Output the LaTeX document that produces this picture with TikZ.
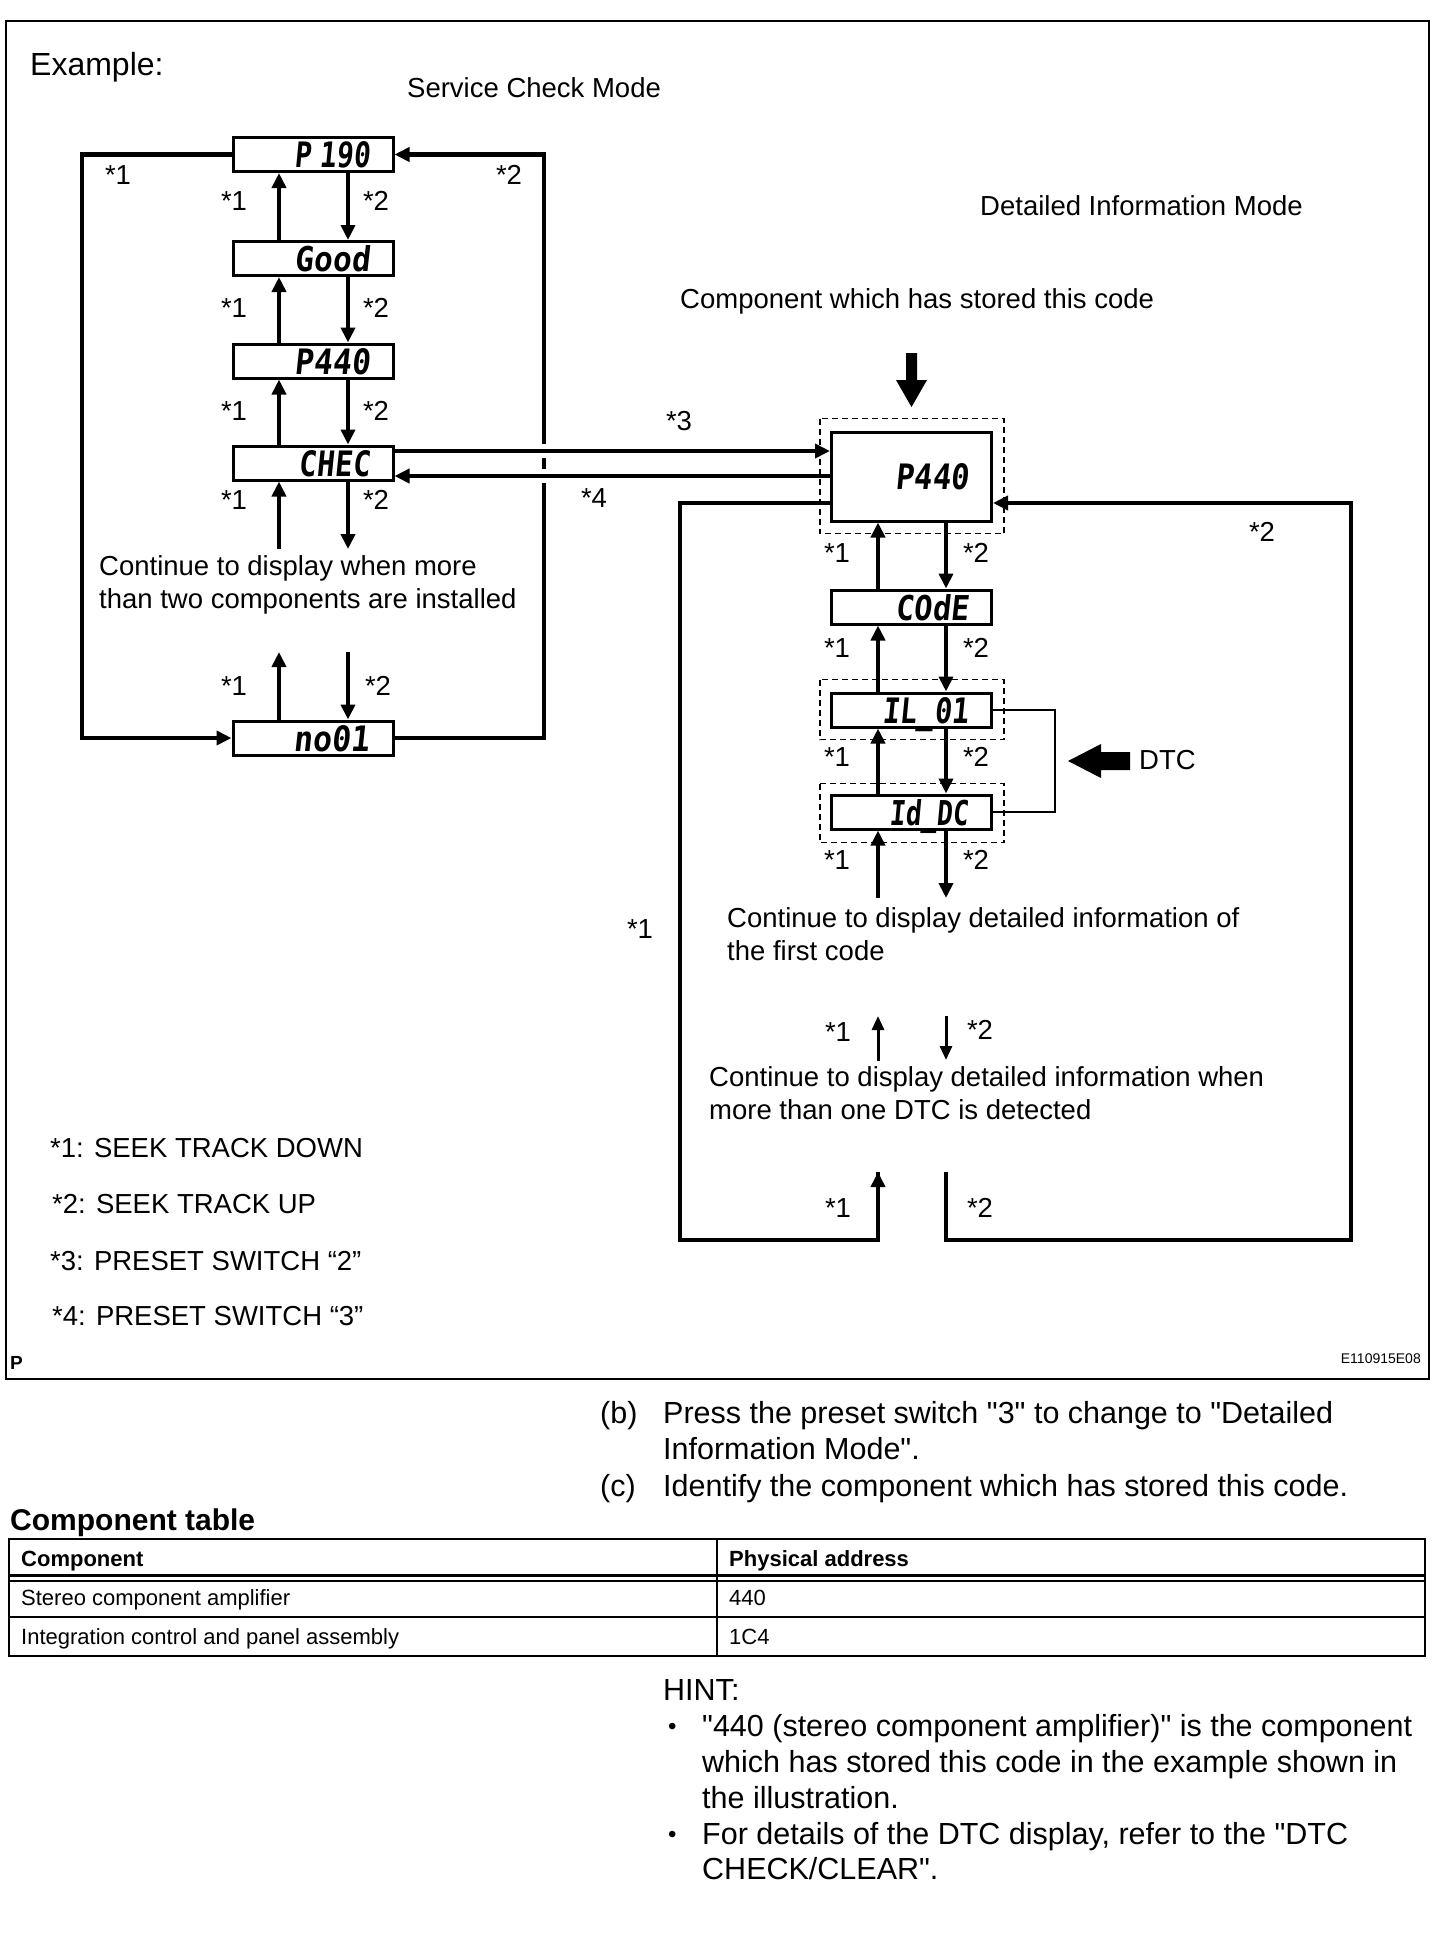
\documentclass[tikz,border=0pt]{standalone}
\usepackage{fontspec}
\defaultfontfeatures{}
\defaultfontfeatures[\rmfamily,\sffamily]{}
\setmainfont{Liberation Sans}
\newfontfamily\lcdfont[FakeSlant=0.12]{DejaVu Sans Mono}
\usetikzlibrary{arrows.meta}
\newcommand{\lcdtxt}[2]{\raisebox{0pt}[\height][0pt]{\resizebox{#1}{26pt}{\lcdfont\bfseries #2}}}
\begin{document}
\begin{tikzpicture}[x=1pt,y=-1pt,
  fig/.style={font=\fontsize{27.5}{33}\selectfont, inner sep=0pt},
  doc/.style={font=\fontsize{30.5}{36}\selectfont, inner sep=0pt, anchor=base west},
  tab/.style={font=\fontsize{22}{26}\selectfont, inner sep=0pt, anchor=base west},
  lbl/.style={fig, anchor=center},
  txt/.style={fig, anchor=base west},
  lcd/.style={draw, line width=3pt, minimum width=160pt, minimum height=34pt, inner sep=0pt, text width=114pt, align=right},
  mainarr/.style={line width=4.5pt, -{Triangle[length=15pt,width=14pt]}},
  thinarr/.style={line width=3pt, -{Triangle[length=14pt,width=12pt]}},
  loopline/.style={line width=4.5pt, line join=miter},
  dashbox/.style={line width=1.5pt, dash pattern=on 6pt off 4pt}
]
\useasboundingbox (0,0) rectangle (1456,1944);
\fill[white] (0,0) rectangle (1456,1944);
% frame
\draw[line width=2.5pt] (6,21) rectangle (1429,1379);

% titles
\node[anchor=base west, inner sep=0pt, font=\fontsize{32}{38}\selectfont] (ex) at (30,75) {Example:};
\node[txt] (scm) at (407,97) {Service Check Mode};
\node[txt] (dim) at (980,215) {Detailed Information Mode};
\node[txt] (cws) at (680,308) {Component which has stored this code};

% helper coordinates
\coordinate (lu) at (279,0);
\coordinate (ld) at (348,0);
\coordinate (ru) at (878,0);
\coordinate (rd) at (946,0);
\coordinate (lx) at (82,0);
\coordinate (rx) at (544,0);

% left column boxes
\node[lcd] (p190) at (313,154.5) {\lcdtxt{76pt}{P 190}};
\node[lcd] (good) at (313,258.5) {\lcdtxt{75pt}{Good}};
\node[lcd] (p440a) at (313,361) {\lcdtxt{75pt}{P440}};
\node[lcd] (chec) at (313,463) {\lcdtxt{71pt}{CHEC}};
\node[lcd] (no01) at (313,738) {\lcdtxt{76pt}{no01}};

% right column boxes
\node[lcd, minimum height=89pt] (p440b) at (911.5,476.5) {\lcdtxt{73pt}{P440}};
\node[lcd] (code) at (911.5,607) {\lcdtxt{73pt}{COdE}};
\node[lcd] (il01) at (911.5,710) {\lcdtxt{86pt}{IL\_01}};
\node[lcd] (iddc) at (911.5,812) {\lcdtxt{79pt}{Id\_DC}};

% dashed frames
\draw[dashbox] ([shift={(-10,-12)}]p440b.north west) rectangle ([shift={(11,11)}]p440b.south east);
\draw[dashbox] ([shift={(-10,-12)}]il01.north west) rectangle ([shift={(11,11)}]il01.south east);
\draw[dashbox] ([shift={(-10,-10)}]iddc.north west) rectangle ([shift={(11,12)}]iddc.south east);

% left column arrows
\draw[mainarr] (good.north -| lu) -- (p190.south -| lu);
\draw[mainarr] (p190.south -| ld) -- (good.north -| ld);
\draw[mainarr] (p440a.north -| lu) -- (good.south -| lu);
\draw[mainarr] (good.south -| ld) -- (p440a.north -| ld);
\draw[mainarr] (chec.north -| lu) -- (p440a.south -| lu);
\draw[mainarr] (p440a.south -| ld) -- (chec.north -| ld);
\coordinate (cu) at (279,549);
\coordinate (cd) at (348,549);
\draw[mainarr] (cu) -- (chec.south -| lu);
\draw[mainarr] (chec.south -| ld) -- (cd);
\coordinate (nu) at (279,652);
\coordinate (nd) at (348,652);
\draw[mainarr] (no01.north -| lu) -- (nu);
\draw[mainarr] (nd) -- (no01.north -| ld);

% left loops
\draw[loopline, -{Triangle[length=15pt,width=14pt]}] (p190.west) -- (p190.west -| lx) -- (no01.west -| lx) -- (no01.west);
\draw[loopline, -{Triangle[length=15pt,width=14pt]}] (no01.east) -- (no01.east -| rx) -- (p190.east -| rx) -- (p190.east);

% crossing gaps
\fill[white] (540,444) rectangle (549,458);
\fill[white] (540,469) rectangle (549,483);

% horizontal connectors
\coordinate (c3) at ([shift={(0,-12)}]chec.east);
\coordinate (c4) at ([shift={(0,13)}]chec.east);
\draw[mainarr] (c3) -- (c3 -| p440b.west);
\draw[mainarr] (c4 -| p440b.west) -- (c4);

% right column arrows
\draw[mainarr] (code.north -| ru) -- (p440b.south -| ru);
\draw[mainarr] (p440b.south -| rd) -- (code.north -| rd);
\draw[mainarr] (il01.north -| ru) -- (code.south -| ru);
\draw[mainarr] (code.south -| rd) -- (il01.north -| rd);
\draw[mainarr] (iddc.north -| ru) -- (il01.south -| ru);
\draw[mainarr] (il01.south -| rd) -- (iddc.north -| rd);
\coordinate (iu) at (878,898);
\coordinate (id) at (946,898);
\draw[mainarr] (iu) -- (iddc.south -| ru);
\draw[mainarr] (iddc.south -| rd) -- (id);

% middle thin arrows
\coordinate (mu1) at (878,1061);
\coordinate (mu2) at (878,1016);
\coordinate (md1) at (946,1016);
\coordinate (md2) at (946,1060);
\draw[thinarr] (mu1) -- (mu2);
\draw[thinarr] (md1) -- (md2);

% right loop
\coordinate (r4) at ([shift={(0,26.5)}]p440b.west);
\coordinate (r5) at ([shift={(0,26.5)}]p440b.east);
\coordinate (g1) at (878,1172);
\coordinate (g2) at (946,1172);
\draw[loopline] (r4) -- (680,503) -- (680,1240) -- (878,1240) -- (g1);
\draw[mainarr] (878,1200) -- (g1);
\draw[loopline, -{Triangle[length=15pt,width=14pt]}] (g2) -- (946,1240) -- (1351,1240) -- (1351,503) -- (r5);

% DTC bracket
\draw[line width=2pt] (il01.east) -- (1055,710) -- (1055,812) -- (iddc.east);

% block arrows
\fill (906,353) -- (917,353) -- (917,380) -- (927,380) -- (911.5,407) -- (896,380) -- (906,380) -- cycle;
\fill (1068,761) -- (1101,744) -- (1101,752) -- (1130,752) -- (1130,770) -- (1101,770) -- (1101,778) -- cycle;
\node[txt] (dtc) at (1139,769) {DTC};

% labels left
\node[lbl] (l1a) at (118,175) {*1};
\node[lbl] (l2a) at (509,175) {*2};
\node[lbl] (l1b) at (234,201) {*1};
\node[lbl] (l2b) at (376,201) {*2};
\node[lbl] (l1c) at (234,308) {*1};
\node[lbl] (l2c) at (376,308) {*2};
\node[lbl] (l1d) at (234,411) {*1};
\node[lbl] (l2d) at (376,411) {*2};
\node[lbl] (l1e) at (234,500) {*1};
\node[lbl] (l2e) at (376,500) {*2};
\node[lbl] (l1f) at (234,686) {*1};
\node[lbl] (l2f) at (378,686) {*2};
\node[lbl] (l3) at (679,421) {*3};
\node[lbl] (l4) at (594,498) {*4};

% labels right
\node[lbl] (r1a) at (837,553) {*1};
\node[lbl] (r2a) at (976,553) {*2};
\node[lbl] (r1b) at (837,648) {*1};
\node[lbl] (r2b) at (976,648) {*2};
\node[lbl] (r1c) at (837,757) {*1};
\node[lbl] (r2c) at (976,757) {*2};
\node[lbl] (r1d) at (837,860) {*1};
\node[lbl] (r2d) at (976,860) {*2};
\node[lbl] (r2e) at (1262,532) {*2};
\node[lbl] (r1e) at (640,929) {*1};
\node[lbl] (r1f) at (838,1032) {*1};
\node[lbl] (r2f) at (980,1030) {*2};
\node[lbl] (r1g) at (838,1208) {*1};
\node[lbl] (r2g) at (980,1208) {*2};

% texts
\node[txt] (ct1) at (99,575) {Continue to display when more};
\node[txt] (ct2) at (99,608) {than two components are installed};
\node[txt] (cd1) at (727,927) {Continue to display detailed information of};
\node[txt] (cd2) at (727,960) {the first code};
\node[txt] (cw1) at (709,1086) {Continue to display detailed information when};
\node[txt] (cw2) at (709,1119) {more than one DTC is detected};

% legend
\node[txt] (lg1) at (50,1157) {*1: SEEK TRACK DOWN};
\node[txt] (lg2) at (52,1213) {*2: SEEK TRACK UP};
\node[txt] (lg3) at (50,1270) {*3: PRESET SWITCH “2”};
\node[txt] (lg4) at (52,1325) {*4: PRESET SWITCH “3”};

\node[anchor=base west, inner sep=0pt, font=\fontsize{19}{22}\selectfont\bfseries] (pp) at (10,1369) {P};
\node[anchor=base east, inner sep=0pt, font=\fontsize{14}{16}\selectfont] (code-id) at (1421,1363) {E110915E08};

% text below
\node[doc] (b) at (600,1423) {(b)};
\node[doc] (b1) at (663,1423) {Press the preset switch "3" to change to "Detailed};
\node[doc] (b2) at (663,1459) {Information Mode".};
\node[doc] (c) at (600,1496) {(c)};
\node[doc] (c1) at (663,1496) {Identify the component which has stored this code.};

\node[anchor=base west, inner sep=0pt, font=\fontsize{30}{36}\selectfont\bfseries] (ctab) at (10,1530) {Component table};

% table
\draw[line width=2.5pt] (9,1539) rectangle (1425,1656);
\draw[line width=2pt] (717,1539) -- (717,1656);
\draw[line width=3pt] (9,1575.5) -- (1425,1575.5);
\draw[line width=2pt] (9,1580.5) -- (1425,1580.5);
\draw[line width=2pt] (9,1617) -- (1425,1617);
\node[tab, font=\fontsize{22}{26}\selectfont\bfseries] (th1) at (21,1566) {Component};
\node[tab, font=\fontsize{22}{26}\selectfont\bfseries] (th2) at (729,1566) {Physical address};
\node[tab] (t11) at (21,1605) {Stereo component amplifier};
\node[tab] (t12) at (729,1605) {440};
\node[tab] (t21) at (21,1644) {Integration control and panel assembly};
\node[tab] (t22) at (729,1644) {1C4};

% hint
\node[doc] (hint) at (663,1700) {HINT:};
\node[doc, font=\fontsize{24}{28}\selectfont] (bu1) at (668,1734) {•};
\node[doc] (h1) at (702,1736) {"440 (stereo component amplifier)" is the component};
\node[doc] (h2) at (702,1772) {which has stored this code in the example shown in};
\node[doc] (h3) at (702,1808) {the illustration.};
\node[doc, font=\fontsize{24}{28}\selectfont] (bu2) at (668,1842) {•};
\node[doc] (h4) at (702,1844) {For details of the DTC display, refer to the "DTC};
\node[doc] (h5) at (702,1879) {CHECK/CLEAR".};
\end{tikzpicture}
\end{document}
